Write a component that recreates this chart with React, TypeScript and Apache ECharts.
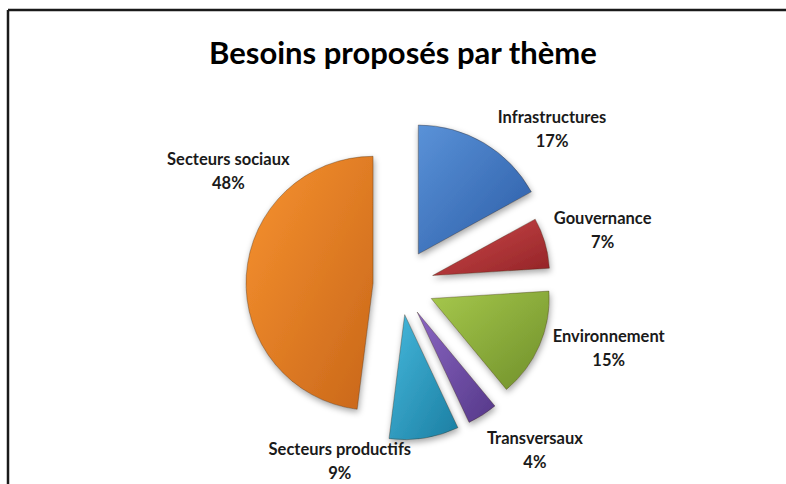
import React, { useEffect, useRef } from "react";
import * as echarts from "echarts";

const titleText = "Besoins proposés par thème";
const categories = [
  "Infrastructures",
  "Gouvernance",
  "Environnement",
  "Transversaux",
  "Secteurs productifs",
  "Secteurs sociaux",
];
const values = [17, 7, 15, 4, 9, 48];
const lightColors = ["#5a92d8", "#cf4a4c", "#a6c84c", "#8a66c2", "#45b8dc", "#f7922f"];
const darkColors = ["#2b5ca6", "#922326", "#6f8f2a", "#553889", "#1b7ea2", "#c9671a"];
// per-slice explode distance and radius (style)
const explode = [36, 34, 34, 32, 30, 27];
const radii = [129, 117, 118, 122, 125, 127];
// per-slice label nudges (px)
const labelNudge: [number, number][] = [
  [58, -5],
  [43, -10],
  [55, -1],
  [42, 27],
  [-91, 13],
  [-3, -104],
];

const CX = 400;
const CY = 285;

export default function App() {
  const ref = useRef<HTMLDivElement>(null);
  useEffect(() => {
    if (!ref.current) return;
    const chart = echarts.init(ref.current, null, { renderer: "svg" });
    const total = values.reduce((a, b) => a + b, 0);
    let acc = 0;
    const series = categories.map((_, si) => {
      const start = acc;
      acc += values[si];
      const mid = ((start + values[si] / 2) / total) * Math.PI * 2;
      const cx = CX + explode[si] * Math.sin(mid);
      const cy = CY - explode[si] * Math.cos(mid);
      const data = categories.map((name, i) => ({
        name,
        value: values[i],
        itemStyle:
          i === si
            ? {
                color: new echarts.graphic.LinearGradient(0, 0, 1, 1, [
                  { offset: 0, color: lightColors[i] },
                  { offset: 1, color: darkColors[i] },
                ]),
                borderColor: "rgba(60,40,20,0.35)",
                borderWidth: 1,
                shadowBlur: 6,
                shadowColor: "rgba(0,0,0,0.35)",
                shadowOffsetX: 1,
                shadowOffsetY: 3,
              }
            : { color: "rgba(0,0,0,0)", borderWidth: 0 },
        label: { show: i === si },
      }));
      return {
        type: "pie",
        center: [cx, cy],
        radius: radii[si],
        startAngle: 90,
        clockwise: true,
        silent: true,
        data,
        label: {
          show: true,
          position: "outside",
          formatter: (p: any) => `${p.name}\n${Math.round(p.percent)}%`,
          fontFamily: "Lato",
          fontWeight: "bold",
          fontSize: 16.5,
          lineHeight: 24,
          color: "#1a1a1a",
        },
        labelLine: { show: false, length: 10, length2: 0 },
        labelLayout: (params: any) => {
          const n = labelNudge[params.dataIndex] || [0, 0];
          return {
            dx: n[0],
            dy: n[1],
            align: "center",
            verticalAlign: "middle",
          };
        },
      };
    });
    chart.setOption({
      animation: false,
      backgroundColor: "#ffffff",
      title: {
        text: titleText,
        left: 204,
        top: 31,
        textStyle: {
          fontFamily: "Lato",
          fontWeight: "bold",
          fontSize: 31,
          color: "#000000",
        },
      },
      graphic: [
        {
          type: "line",
          shape: { x1: 8, y1: 10, x2: 8, y2: 484 },
          style: { stroke: "#1a1a1a", lineWidth: 2.5 },
        },
        {
          type: "line",
          shape: { x1: 8, y1: 10, x2: 786, y2: 10 },
          style: { stroke: "#1a1a1a", lineWidth: 2.5 },
        },
      ],
      series,
    });
    return () => chart.dispose();
  }, []);
  return (
    <div
      ref={ref}
      style={{ position: "absolute", left: 0, top: 0, width: 786, height: 484 }}
    />
  );
}
